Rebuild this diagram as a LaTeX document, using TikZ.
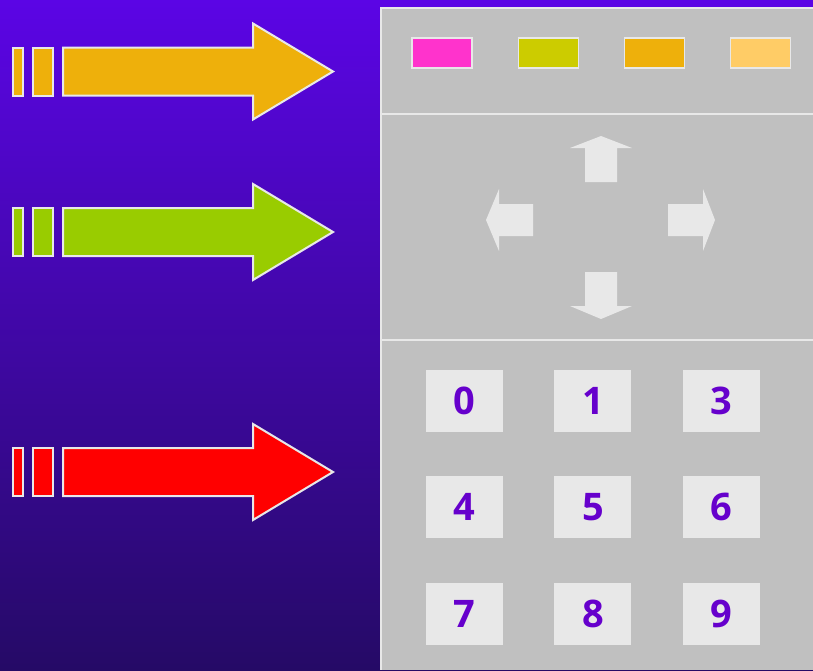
\documentclass[tikz,border=0pt]{standalone}
\usepackage{fontspec}
\setsansfont{Open Sans}
\usetikzlibrary{positioning}

\definecolor{bgtop}{HTML}{5B05E5}
\definecolor{bgbottom}{HTML}{250A66}
\definecolor{panelgray}{HTML}{C0C0C0}
\definecolor{keygray}{HTML}{E8E8E8}
\definecolor{keytext}{HTML}{6600CC}
\definecolor{swpink}{HTML}{FF33CC}
\definecolor{swolive}{HTML}{CCCC00}
\definecolor{swgold}{HTML}{EEB00B}
\definecolor{swpeach}{HTML}{FFCC66}
\definecolor{arrgreen}{HTML}{99CC00}
\definecolor{arrred}{HTML}{FF0000}

\begin{document}
\begin{tikzpicture}[
    x=1pt, y=-1pt, % one unit per pixel, y running down
    swatch/.style={
        draw=keygray, % light border
        line width=1.2pt,
        minimum width=60pt,
        minimum height=30pt,
        inner sep=0pt
    },
    keybox/.style={
        fill=keygray, % light key face
        minimum width=77pt,
        minimum height=62pt,
        inner sep=0pt,
        text=keytext,
        font=\sffamily\bfseries\fontsize{38}{38}\selectfont
    },
    pad/.style={fill=keygray, draw=none}, % direction pad arrows
    bigarrow/.style={draw=keygray, line width=2pt, line join=miter}
]
\useasboundingbox (0,0) rectangle (813,670);

% background and panel
\shade[top color=bgtop, bottom color=bgbottom] (0,0) rectangle (813,670);
\fill[panelgray] (381,8) rectangle (813,670);
\draw[keygray, line width=1.5pt] (813,8) -- (381,8) -- (381,670);
\draw[keygray, line width=1.5pt] (381,114) -- (813,114);
\draw[keygray, line width=1.5pt] (381,340) -- (813,340);

% big arrows
\foreach \c/\col in {71.5/swgold, 232/arrgreen, 472/arrred} {
    \draw[bigarrow, fill=\col] (13,\c-24) rectangle (23,\c+24);
    \draw[bigarrow, fill=\col] (33,\c-24) rectangle (53,\c+24);
    \draw[bigarrow, fill=\col] (63,\c-24) -- (253,\c-24) -- (253,\c-48)
        -- (333,\c) -- (253,\c+48) -- (253,\c+24) -- (63,\c+24) -- cycle;
}

% colour swatches
\node[swatch, fill=swpink] (pink) at (442,53) {};
\node[swatch, fill=swolive, right=45pt of pink] (olive) {};
\node[swatch, fill=swgold, right=45pt of olive] (gold) {};
\node[swatch, fill=swpeach, right=45pt of gold] (peach) {};

% direction pad
\fill[pad] (585,182) -- (585,148) -- (570,148) -- (601,136) -- (632,148)
    -- (617,148) -- (617,182) -- cycle;
\fill[pad] (585,272) -- (585,306) -- (570,306) -- (601,319) -- (632,306)
    -- (617,306) -- (617,272) -- cycle;
\fill[pad] (533,204) -- (499,204) -- (499,189) -- (486,220) -- (499,251)
    -- (499,236) -- (533,236) -- cycle;
\fill[pad] (668,204) -- (703,204) -- (703,189) -- (715,220) -- (703,251)
    -- (703,236) -- (668,236) -- cycle;

% number keys
\node[keybox] (k0) at (464.5,401) {0};
\node[keybox, right=51pt of k0] (k1) {1};
\node[keybox, right=51pt of k1] (k3) {3};
\node[keybox, below=44pt of k0] (k4) {4};
\node[keybox, right=51pt of k4] (k5) {5};
\node[keybox, right=51pt of k5] (k6) {6};
\node[keybox, below=44pt of k4] (k7) {7};
\node[keybox, right=51pt of k7] (k8) {8};
\node[keybox, right=51pt of k8] (k9) {9};
\end{tikzpicture}
\end{document}
